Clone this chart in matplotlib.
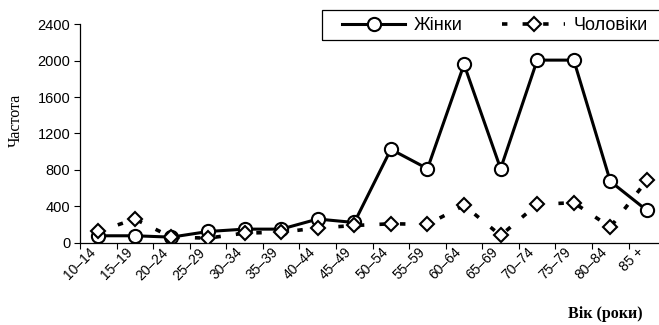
import matplotlib
matplotlib.use("Agg")
import matplotlib.pyplot as plt
from matplotlib.patches import Rectangle
import numpy as np

categories = ["10–14", "15–19", "20–24", "25–29", "30–34", "35–39", "40–44", "45–49",
              "50–54", "55–59", "60–64", "65–69", "70–74", "75–79", "80–84", "85 +"]
women = [74, 74, 59, 121, 147, 147, 258, 220, 1025, 812, 1959, 812, 2006, 2006, 672, 353]
men = [121, 258, 59, 48, 103, 114, 159, 187, 206, 200, 408, 77, 419, 438, 169, 684]
yticks = [0, 400, 800, 1200, 1600, 2000, 2400]

plt.rcParams['font.family'] = ['Liberation Sans', 'DejaVu Sans']
W, H = 659, 325

fig = plt.figure(figsize=(W/100, H/100), dpi=100)
ax = fig.add_axes([80/W, 1 - 242.5/H, 1 - 80/W, (242.5 - 24.3)/H])

x = np.arange(len(categories))
ax.plot(x, women, color='black', lw=2.2, marker='o', markersize=9.5,
        markerfacecolor='white', markeredgecolor='black', markeredgewidth=1.5,
        label='Жінки', zorder=3)
ax.plot(x, men, color='black', lw=2.6, linestyle=(0, (1.5, 4.2)), marker='D',
        markersize=7, markerfacecolor='white', markeredgecolor='black',
        markeredgewidth=1.5, label='Чоловіки', zorder=4)

ax.set_ylim(0, 2400)
ax.set_xlim(-0.5, 15.33)
ax.set_yticks(yticks)
ax.set_yticklabels([str(v) for v in yticks], fontsize=10.5)
ax.set_xticks(x)
ax.set_xticklabels(categories, rotation=45, ha='right', fontsize=10)
ax.tick_params(axis='x', length=0, pad=2)
ax.set_xticks(np.arange(-0.5, 15.5, 1.0), minor=True)
ax.tick_params(axis='x', which='minor', length=4, direction='out', width=0.8)
ax.tick_params(axis='y', length=4, direction='out', width=0.8, pad=3)

for s in ['top', 'right']:
    ax.spines[s].set_visible(False)
for s in ['left', 'bottom']:
    ax.spines[s].set_linewidth(0.9)

serif = ['Liberation Serif', 'DejaVu Serif']
fig.text(16/W, 1 - 120/H, 'Частота', family=serif, fontsize=11.5, rotation=90,
         ha='center', va='center')
fig.text(605/W, 1 - 314/H, 'Вік (роки)', family=serif,
         fontsize=11.5, fontweight='bold', ha='center', va='center')

# legend frame
fig.patches.append(Rectangle((321.5/W, 1 - 40/H), (W + 10 - 321.5)/W, 30/H,
                             transform=fig.transFigure, fill=False,
                             edgecolor='black', linewidth=0.9))
leg = ax.legend(loc='center left', bbox_to_anchor=(342/W, 1 - 26/H), bbox_transform=fig.transFigure,
                ncol=2, fontsize=13, frameon=False, handlelength=3.5,
                columnspacing=2.2, handletextpad=0.45, borderpad=0, borderaxespad=0)

fig.savefig('out.png', dpi=100)
